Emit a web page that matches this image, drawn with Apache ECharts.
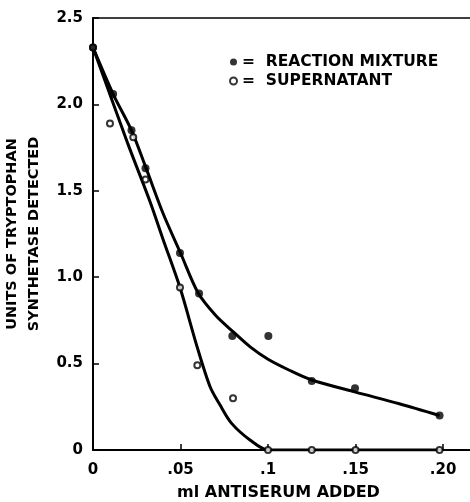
<!DOCTYPE html>
<html>
<head>
<meta charset="utf-8">
<script src="https://cdn.jsdelivr.net/npm/echarts@6/dist/echarts.min.js"></script>
<style>
html,body{margin:0;padding:0;background:#fff;}
#chart{width:470px;height:502px;}
</style>
</head>
<body>
<div id="chart"></div>
<script>
// Measured points (x = ml antiserum, y = units detected)
var reactionX = [0, 0.0115, 0.022, 0.030, 0.0497, 0.0606, 0.0796, 0.1002, 0.125, 0.1497, 0.198];
var reactionY = [2.33, 2.06, 1.85, 1.63, 1.14, 0.905, 0.66, 0.66, 0.40, 0.357, 0.20];
var supernatantX = [0, 0.0097, 0.023, 0.030, 0.0497, 0.0596, 0.080, 0.100, 0.125, 0.150, 0.198];
var supernatantY = [2.33, 1.89, 1.81, 1.565, 0.94, 0.49, 0.30, 0, 0, 0, 0];
// Hand-drawn fitted curves
var reactionCurveX = [0, 0.0115, 0.022, 0.030, 0.040, 0.050, 0.060, 0.070, 0.080, 0.090, 0.100, 0.1125, 0.125, 0.150, 0.175, 0.198];
var reactionCurveY = [2.33, 2.06, 1.85, 1.64, 1.37, 1.14, 0.91, 0.78, 0.685, 0.595, 0.525, 0.46, 0.405, 0.335, 0.268, 0.20];
var supernatantCurveX = [0, 0.020, 0.0326, 0.040, 0.0497, 0.0594, 0.0669, 0.0726, 0.0792, 0.0897, 0.100, 0.150, 0.198];
var supernatantCurveY = [2.33, 1.77, 1.437, 1.22, 0.94, 0.60, 0.366, 0.26, 0.154, 0.058, 0, 0, 0];
var xTicks = [0, 0.05, 0.1, 0.15, 0.2];
var xTickLabels = ['0', '.05', '.1', '.15', '.20'];
var yTicks = [0, 0.5, 1.0, 1.5, 2.0, 2.5];
var yTickLabels = ['0', '0.5', '1.0', '1.5', '2.0', '2.5'];
var seriesNames = ['REACTION MIXTURE', 'SUPERNATANT'];

function zip(a, b) { return a.map(function (v, i) { return [v, b[i]]; }); }

var FONT = 'DejaVu Sans';
var chart = echarts.init(document.getElementById('chart'), null, {renderer: 'canvas'});
chart.setOption({
  animation: false,
  backgroundColor: '#fff',
  grid: {left: 93, top: 18, right: 0, bottom: 52, containLabel: false, outerBoundsMode: 'none'},
  legend: {
    data: [
      {name: seriesNames[0], icon: 'circle'},
      {name: seriesNames[1], icon: 'emptyCircle'}
    ],
    orient: 'vertical',
    left: 229, top: 54, padding: 0,
    itemWidth: 7, itemHeight: 7, itemGap: 3,
    formatter: function (n) { return '=  ' + n; },
    textStyle: {fontFamily: FONT, fontWeight: 'bold', fontSize: 15.5, color: '#000'}
  },
  xAxis: [{
    type: 'value', min: 0, max: 0.2154, position: 'bottom',
    name: 'ml ANTISERUM ADDED', nameLocation: 'middle', nameGap: 35,
    nameTextStyle: {fontFamily: FONT, fontWeight: 'bold', fontSize: 16, color: '#000', padding: [0, 0, 0, -6]},
    axisLine: {show: true, lineStyle: {color: '#000', width: 2}},
    axisTick: {show: true, inside: true, length: 6, lineStyle: {color: '#000', width: 1.5}, customValues: xTicks},
    axisLabel: {customValues: xTicks, margin: 13, fontFamily: FONT, fontWeight: 'bold', fontSize: 15, color: '#000',
      formatter: function (v) { var i = xTicks.indexOf(v); return i >= 0 ? xTickLabels[i] : ''; }},
    splitLine: {show: false}
  }, {
    type: 'value', min: 0, max: 0.2154, position: 'top',
    axisLine: {show: true, lineStyle: {color: '#000', width: 1.5}},
    axisTick: {show: false}, axisLabel: {show: false}, splitLine: {show: false}
  }],
  yAxis: {
    type: 'value', min: 0, max: 2.5, interval: 0.5,
    name: 'UNITS OF TRYPTOPHAN\nSYNTHETASE DETECTED', nameLocation: 'middle', nameGap: 44,
    nameTextStyle: {fontFamily: FONT, fontWeight: 'bold', fontSize: 14.5, color: '#000', lineHeight: 22},
    axisLine: {show: true, lineStyle: {color: '#000', width: 2}},
    axisTick: {show: true, inside: true, length: 6, lineStyle: {color: '#000', width: 1.5}},
    axisLabel: {margin: 10, fontFamily: FONT, fontWeight: 'bold', fontSize: 15, color: '#000',
      formatter: function (v) { var i = yTicks.indexOf(v); return i >= 0 ? yTickLabels[i] : ''; }},
    splitLine: {show: false}
  },
  series: [
    {
      type: 'line', name: 'reactionCurve', data: zip(reactionCurveX, reactionCurveY),
      smooth: 0.3, showSymbol: false, symbol: 'none',
      lineStyle: {color: '#000', width: 3}, z: 2
    },
    {
      type: 'line', name: 'supernatantCurve', data: zip(supernatantCurveX, supernatantCurveY),
      smooth: 0.3, showSymbol: false, symbol: 'none',
      lineStyle: {color: '#000', width: 3}, z: 2
    },
    {
      type: 'scatter', name: seriesNames[1], data: zip(supernatantX, supernatantY),
      symbol: 'emptyCircle', symbolSize: 6,
      itemStyle: {color: '#000', borderColor: '#000', borderWidth: 1.6}, z: 4
    },
    {
      type: 'scatter', name: seriesNames[0], data: zip(reactionX, reactionY),
      symbol: 'circle', symbolSize: 8,
      itemStyle: {color: '#000'}, z: 5
    }
  ]
});
</script>
</body>
</html>
